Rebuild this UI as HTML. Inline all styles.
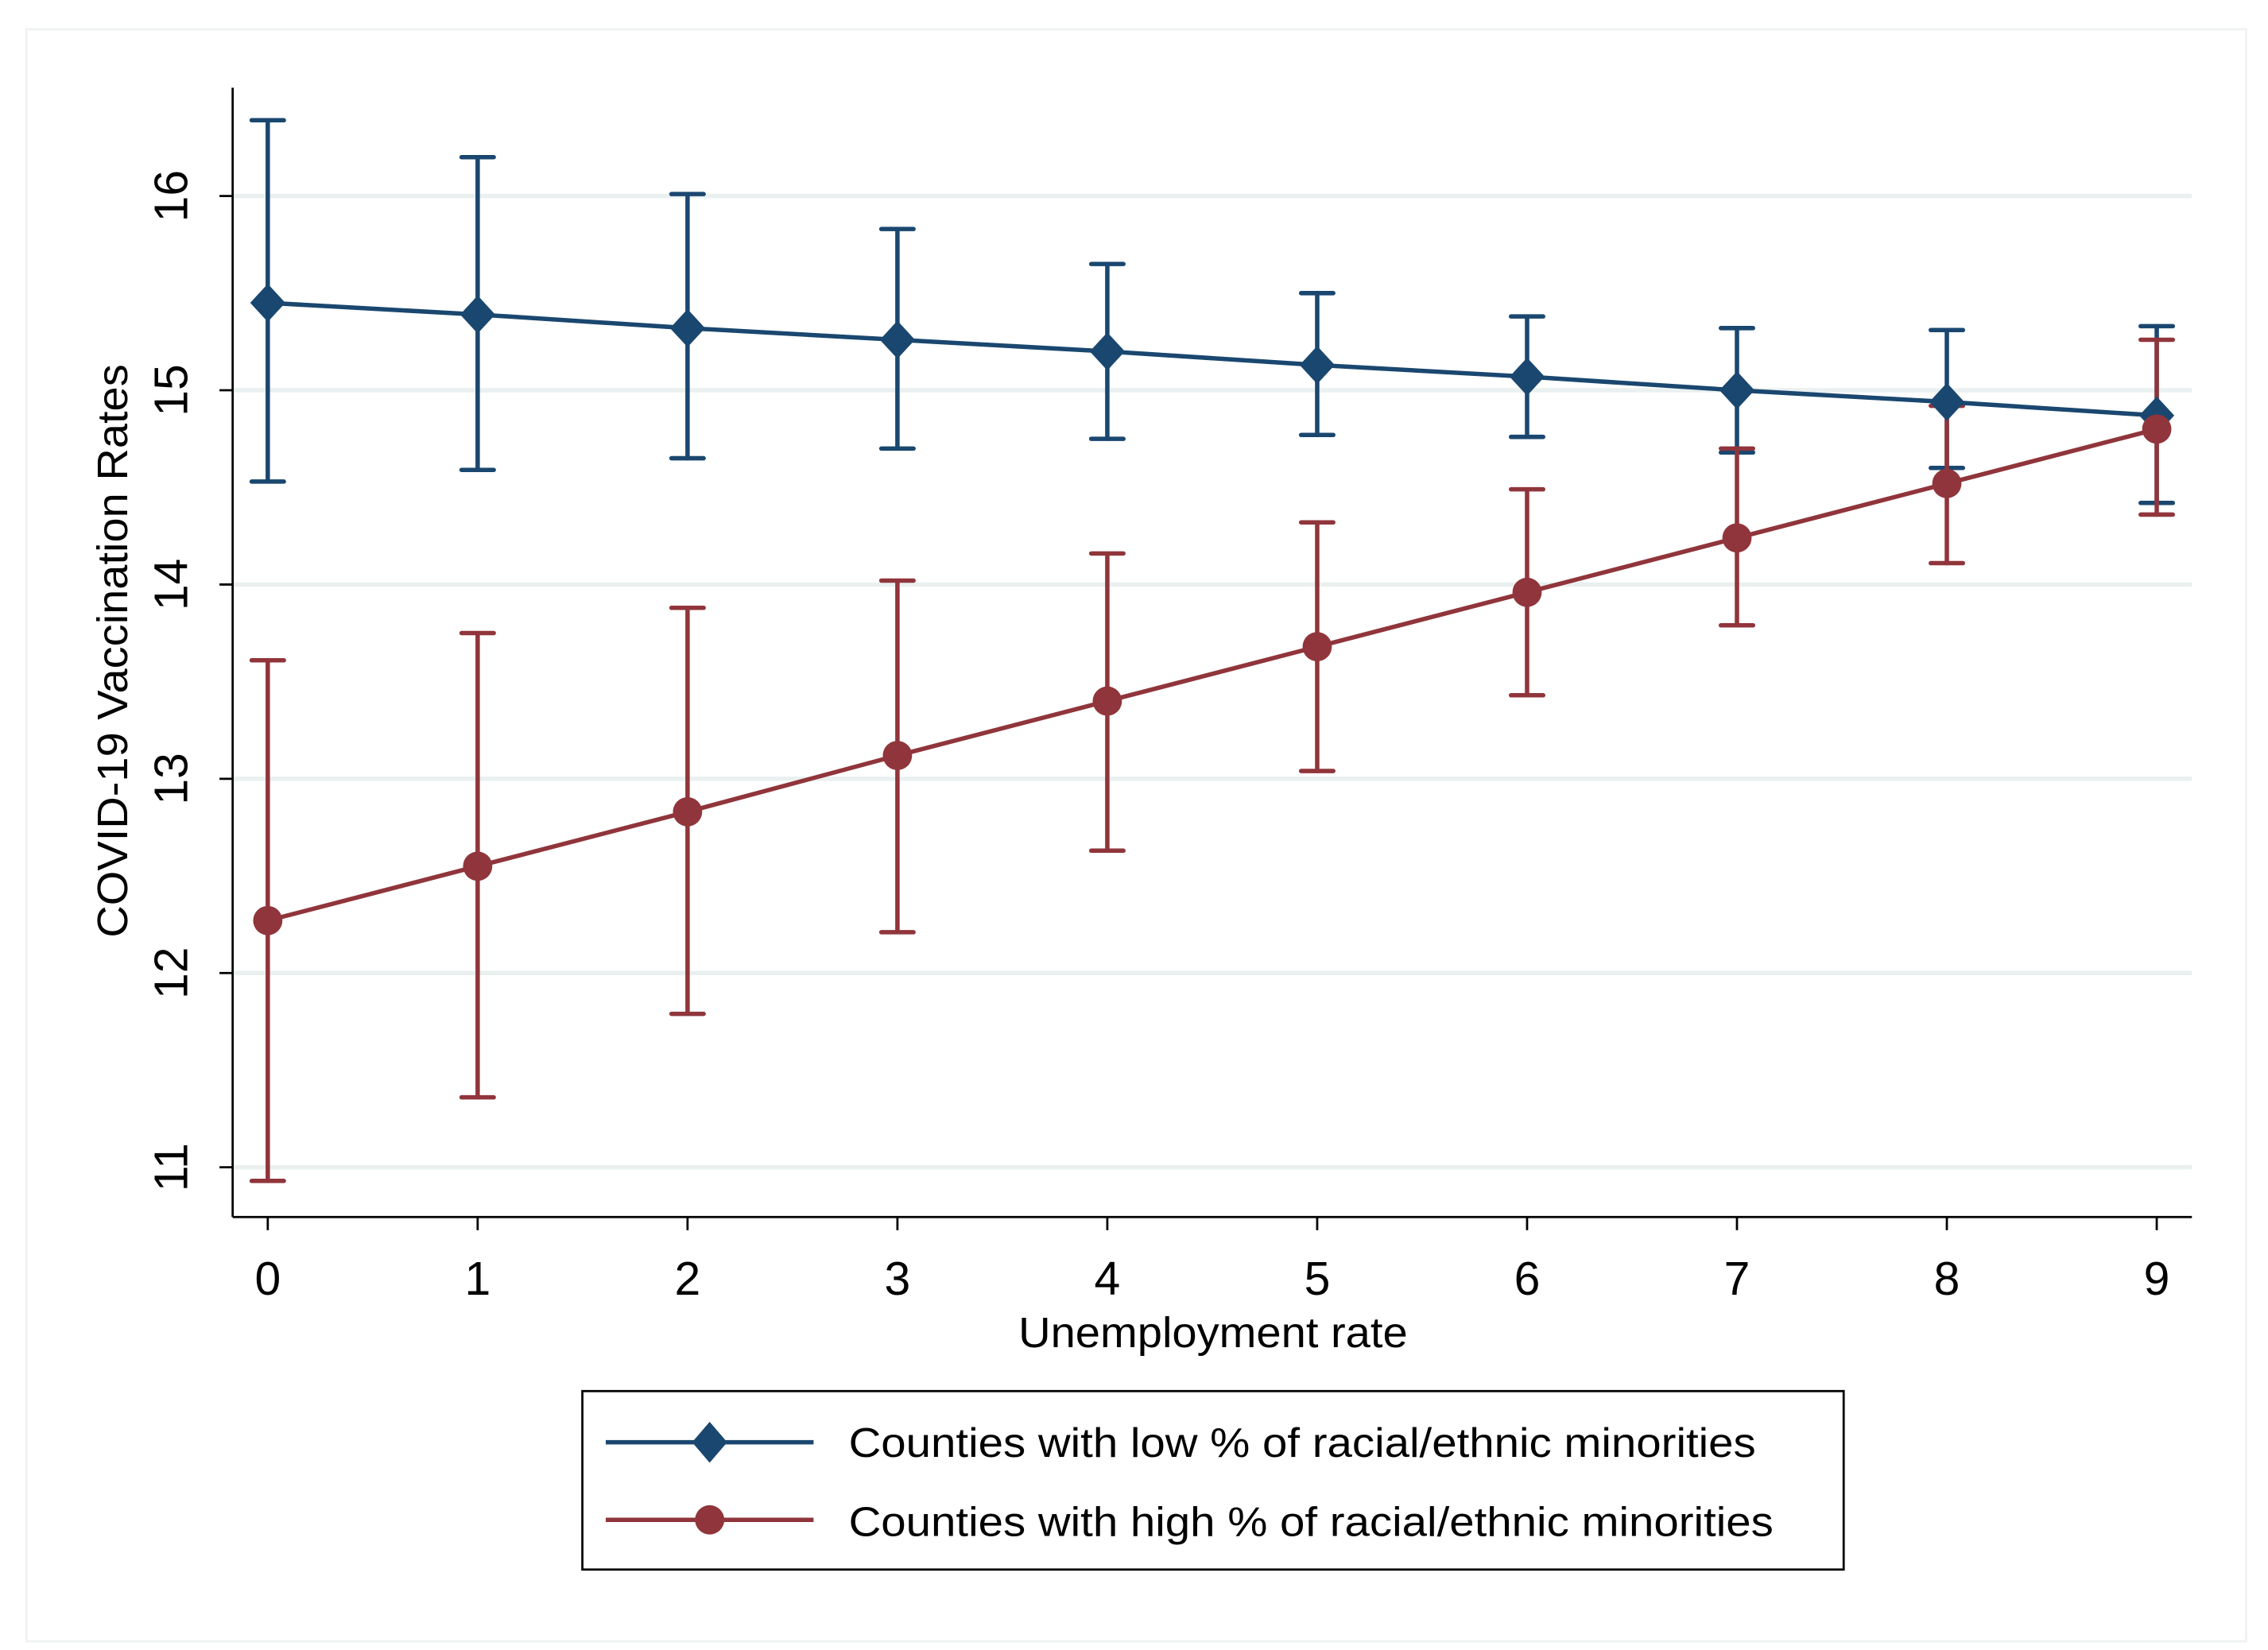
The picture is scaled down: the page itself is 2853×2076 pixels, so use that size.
<!DOCTYPE html>
<html><head><meta charset="utf-8"><style>
html,body{margin:0;padding:0;background:#fff;}
svg{display:block;font-family:"Liberation Sans",Arial,sans-serif;}
</style></head><body>
<svg id="chart" width="2853" height="2076" viewBox="0 0 1550 1128" preserveAspectRatio="none" xmlns="http://www.w3.org/2000/svg">
<rect x="0" y="0" width="1550" height="1128" fill="#fff"/>
<rect x="18" y="20" width="1517" height="1102" fill="none" stroke="#eef2f2" stroke-width="1.5"/>
<g id="grid"></g>
<g id="axes"></g>
<g id="series"></g>
<text x="0" y="0" transform="translate(87,445) rotate(-90)" text-anchor="middle" font-size="29" textLength="392" lengthAdjust="spacingAndGlyphs" fill="#000">COVID-19 Vaccination Rates</text>
<text x="829" y="921" text-anchor="middle" font-size="29" textLength="266" lengthAdjust="spacingAndGlyphs" fill="#000">Unemployment rate</text>
<g>
<rect x="398" y="951" width="862" height="122" fill="#fff" stroke="#000" stroke-width="1.5"/>
<g>
<line x1="414" y1="986" x2="556" y2="986" stroke="#1a476f" stroke-width="3"/>
<polygon points="485,972 497,986 485,1000 473,986" fill="#1a476f"/>
<text x="580" y="996" font-size="28" textLength="620" lengthAdjust="spacingAndGlyphs" fill="#000">Counties with low % of racial/ethnic minorities</text>
</g>
<g>
<line x1="414" y1="1039" x2="556" y2="1039" stroke="#90353b" stroke-width="3"/>
<circle cx="485" cy="1039" r="10" fill="#90353b"/>
<text x="580" y="1050" font-size="28" textLength="632" lengthAdjust="spacingAndGlyphs" fill="#000">Counties with high % of racial/ethnic minorities</text>
</g>
</g>
</svg>
<script>
const categories = [0,1,2,3,4,5,6,7,8,9];
const lowEst = [15.45,15.39,15.32,15.26,15.20,15.13,15.07,15.00,14.94,14.87];
const lowUpper = [16.39,16.20,16.01,15.83,15.65,15.50,15.38,15.32,15.31,15.33];
const lowLower = [14.53,14.59,14.65,14.70,14.75,14.77,14.76,14.68,14.60,14.42];
const highEst = [12.27,12.55,12.83,13.12,13.40,13.68,13.96,14.24,14.52,14.80];
const highUpper = [13.61,13.75,13.88,14.02,14.16,14.32,14.49,14.70,14.92,15.26];
const highLower = [10.93,11.36,11.79,12.21,12.63,13.04,13.43,13.79,14.11,14.36];
const yTicks = [11,12,13,14,15,16];
const xTicks = [0,1,2,3,4,5,6,7,8,9];

const NS='http://www.w3.org/2000/svg';
const xs = v => 183 + v*143.44;
const ys = v => 134 + (16 - v)*132.8;
function mk(tag, attrs, parent){const e=document.createElementNS(NS,tag);for(const k in attrs)e.setAttribute(k,attrs[k]);parent.appendChild(e);return e;}
const grid=document.getElementById('grid'), axes=document.getElementById('axes'), ser=document.getElementById('series');

yTicks.forEach(t=>{
  const g=mk('line',{x1:160,x2:1498,y1:ys(t),y2:ys(t),stroke:'#eaf0f0','stroke-width':3},grid);
  
  
  const tk=mk('line',{x1:150,x2:159,y1:ys(t),y2:ys(t),stroke:'#000','stroke-width':1.5},axes);
  
  
  const tx=mk('text',{transform:`translate(128,${ys(t)}) rotate(-90)`,'text-anchor':'middle','font-size':32,fill:'#000'},axes);
  tx.textContent=t;
  
  
});
xTicks.forEach(t=>{
  const tk=mk('line',{x1:xs(t),x2:xs(t),y1:832,y2:841,stroke:'#000','stroke-width':1.5},axes);
  
  
  const tx=mk('text',{x:xs(t),y:885,'text-anchor':'middle','font-size':32,fill:'#000'},axes);
  tx.textContent=t;
  
  
});
const ya=mk('line',{x1:159,x2:159,y1:60,y2:832,stroke:'#000','stroke-width':1.5},axes);


const xa=mk('line',{x1:159,x2:1498,y1:832,y2:832,stroke:'#000','stroke-width':1.5},axes);



function ci(lo,hi,color,name){
  categories.forEach((c,i)=>{
    const g=mk('g',{stroke:color,'stroke-width':3,'stroke-linecap':'round'},ser);
    
    
    mk('line',{x1:xs(c),x2:xs(c),y1:ys(lo[i]),y2:ys(hi[i])},g);
    mk('line',{x1:xs(c)-11,x2:xs(c)+11,y1:ys(lo[i]),y2:ys(lo[i])},g);
    mk('line',{x1:xs(c)-11,x2:xs(c)+11,y1:ys(hi[i]),y2:ys(hi[i])},g);
  });
}
function line(est,color,name,marker){
  const p=mk('polyline',{points:categories.map((c,i)=>xs(c)+','+ys(est[i])).join(' '),fill:'none',stroke:color,'stroke-width':3},ser);
  
  
  categories.forEach((c,i)=>{
    const x=xs(c),y=ys(est[i]);
    let m;
    if(marker==='diamond') m=mk('polygon',{points:`${x},${y-13} ${x+12},${y} ${x},${y+13} ${x-12},${y}`,fill:color},ser);
    else m=mk('circle',{cx:x,cy:y,r:10,fill:color},ser);
    
    
  });
}
ci(lowLower,lowUpper,'#1a476f','low');
ci(highLower,highUpper,'#90353b','high');
line(lowEst,'#1a476f','low','diamond');
line(highEst,'#90353b','high','circle');
</script>
</body></html>
